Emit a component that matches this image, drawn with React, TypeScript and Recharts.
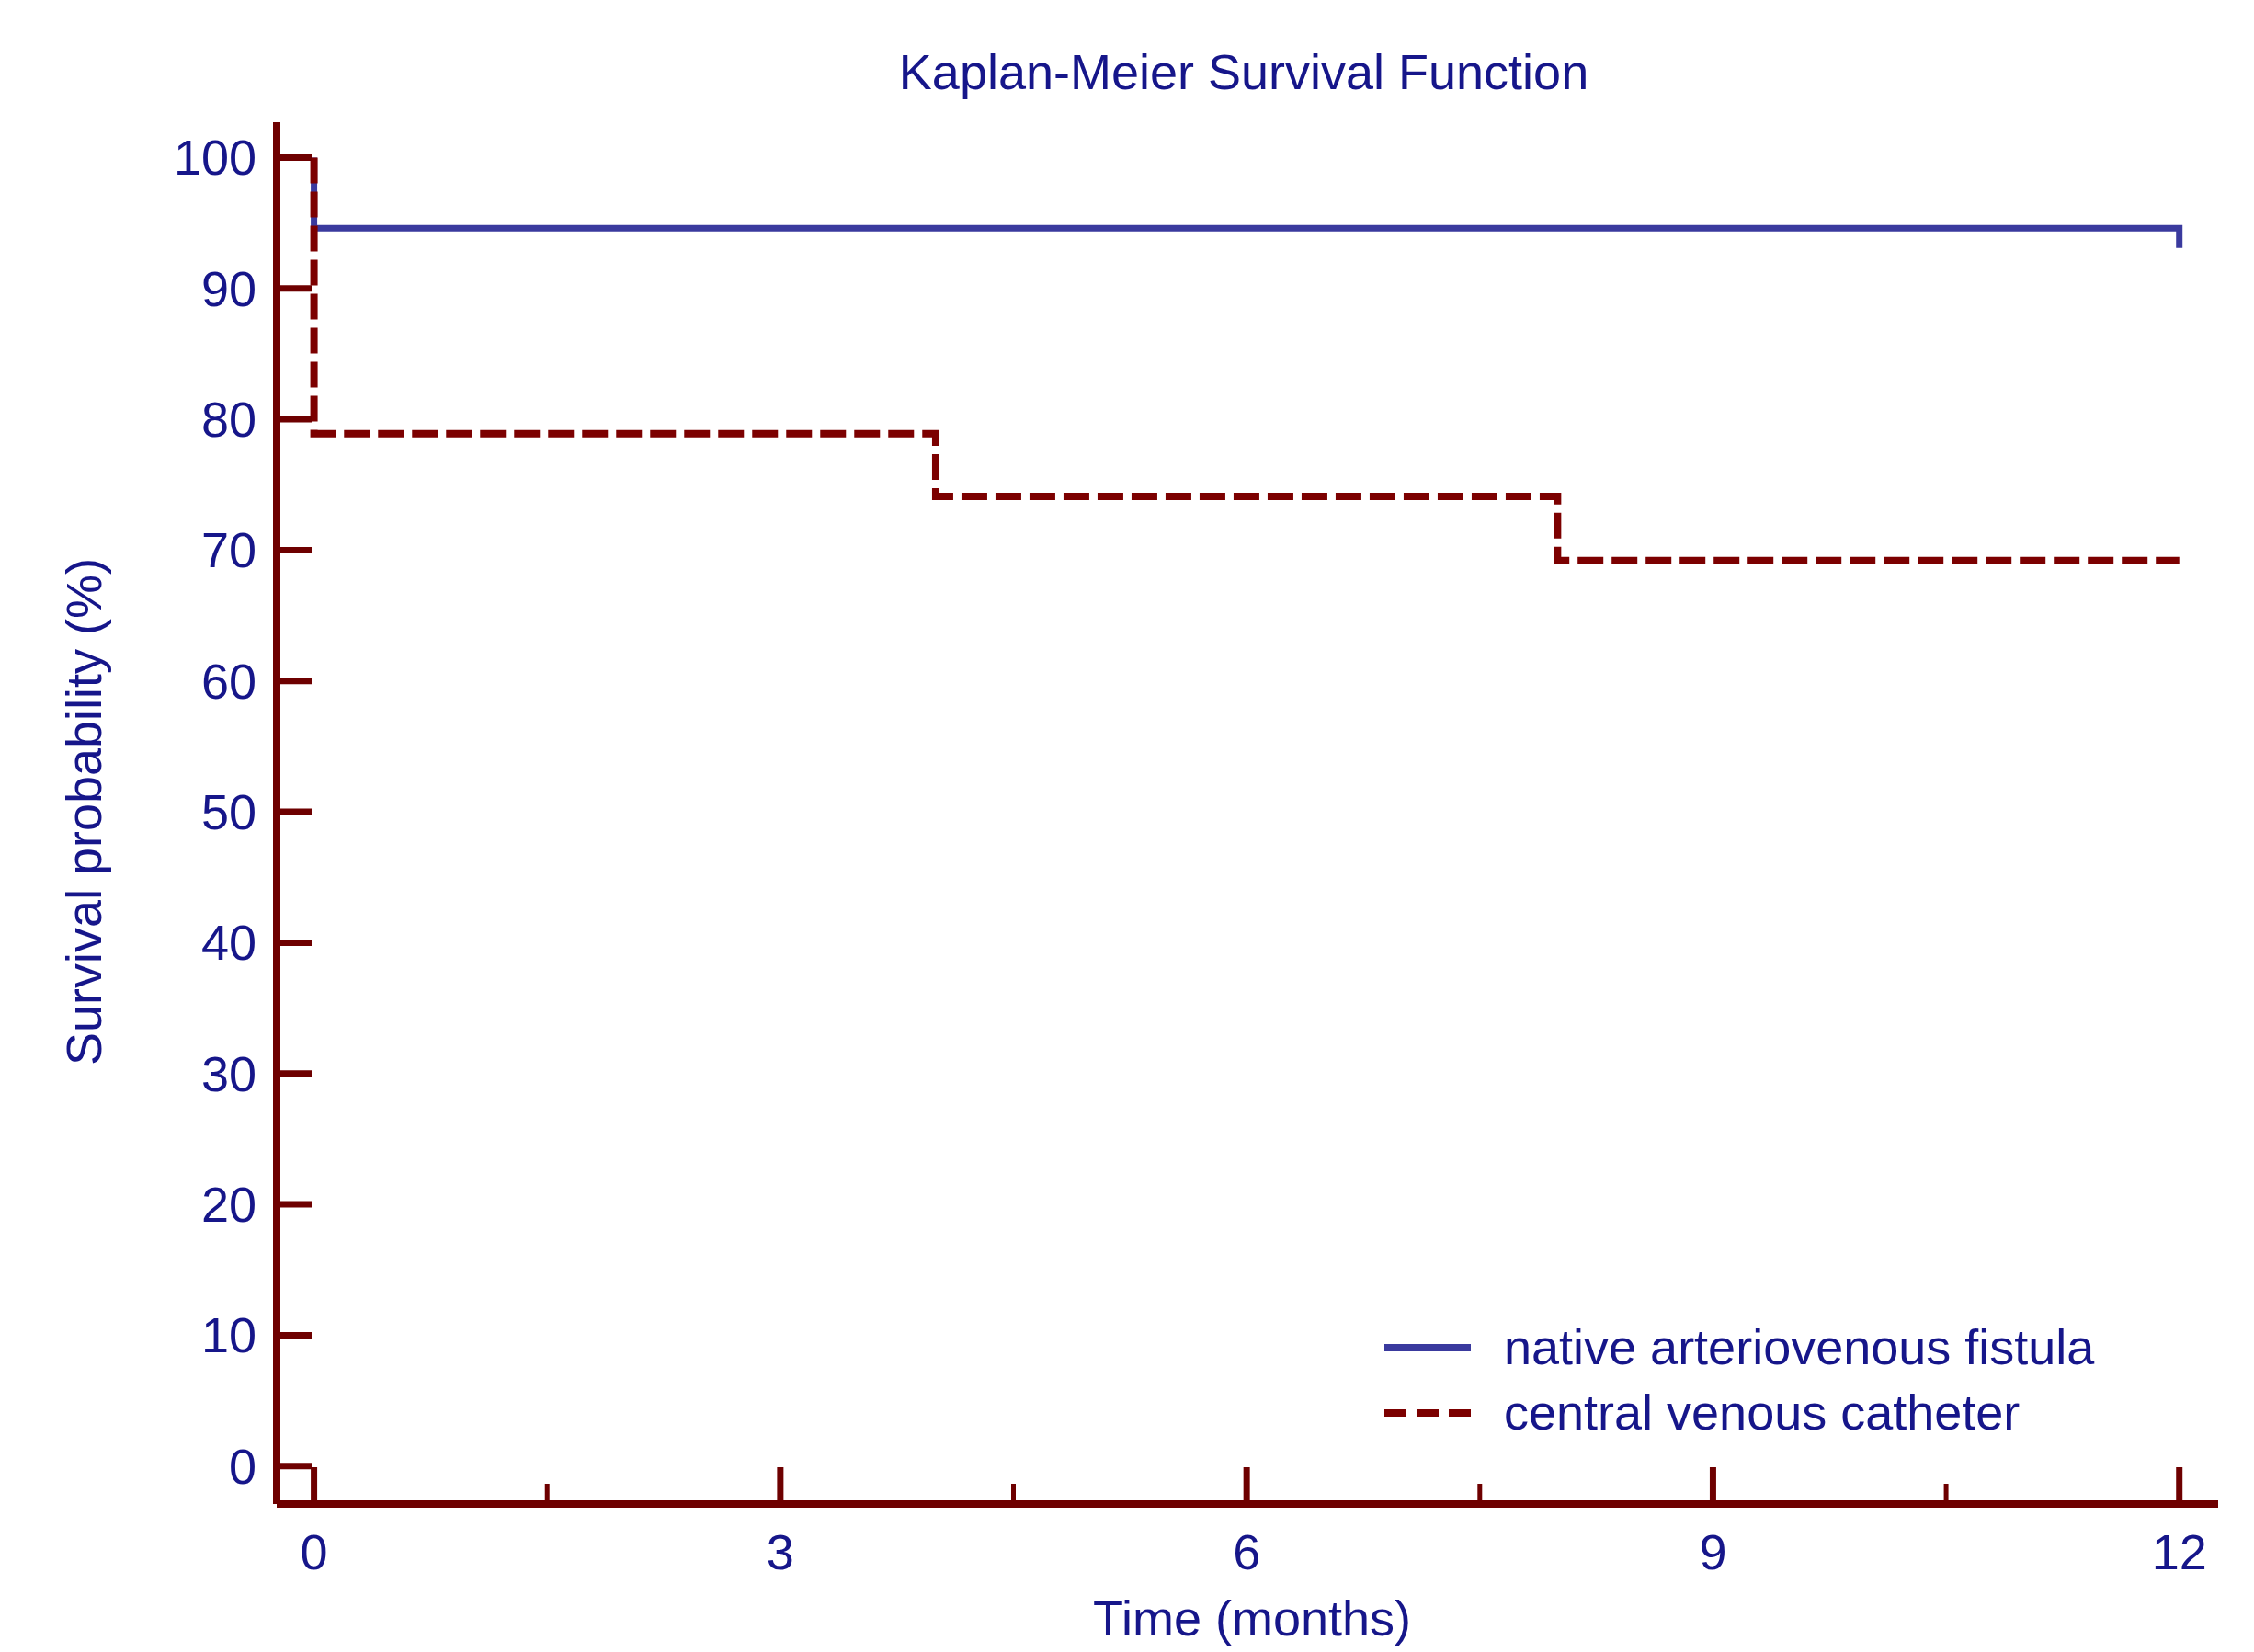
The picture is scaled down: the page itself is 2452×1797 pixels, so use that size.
// @ts-nocheck
import { LineChart, Line, XAxis, YAxis, Legend } from 'recharts'

// Kaplan-Meier step data (time in months, survival %)
const fistulaTime = [0, 0, 12, 12]
const fistulaSurv = [100, 94.6, 94.6, 93.1]
const catheterTime = [0, 0, 4, 4, 8, 8, 12]
const catheterSurv = [100, 78.9, 78.9, 74.1, 74.1, 69.2, 69.2]

const xTicks = [0, 1.5, 3, 4.5, 6, 7.5, 9, 10.5, 12]
const yTicks = [0, 10, 20, 30, 40, 50, 60, 70, 80, 90, 100]

const seriesNames = ['native arteriovenous fistula', 'central venous catheter']

const fistula = fistulaTime.map((t, i) => ({ t, s: fistulaSurv[i] }))
const catheter = catheterTime.map((t, i) => ({ t, s: catheterSurv[i] }))

const AXIS = '#6e0000'
const TEXT = '#16168a'
const BLUE = '#3a3a9e'
const RED = '#7c0000'
const FONT = '"Liberation Sans", Arial, sans-serif'

const XTick = ({ x, y, payload }) => {
  const major = payload.value % 3 === 0
  return (
    <g>
      <line x1={x} x2={x} y1={y} y2={y - (major ? 40 : 22)} stroke={AXIS} strokeWidth={major ? 7 : 5} />
      {major && (
        <text x={x} y={y + 52} textAnchor="middle" dominantBaseline="central" fill={TEXT} fontSize={54} fontFamily={FONT}>
          {payload.value}
        </text>
      )}
    </g>
  )
}

const YTick = ({ x, y, payload }) => (
  <g>
    <line x1={x} x2={x + 38} y1={y} y2={y} stroke={AXIS} strokeWidth={7} />
    <text x={x - 22} y={y} textAnchor="end" dominantBaseline="central" fill={TEXT} fontSize={54} fontFamily={FONT}>
      {payload.value}
    </text>
  </g>
)

const LegendBox = () => (
  <div style={{ fontFamily: FONT, fontSize: 54, color: TEXT, lineHeight: '71px' }}>
    {seriesNames.map((n, i) => (
      <div key={n} style={{ display: 'flex', alignItems: 'center', height: 71, whiteSpace: 'nowrap' }}>
        <svg width={94} height={20} style={{ marginRight: 36 }}>
          <line x1={0} x2={94} y1={10} y2={10} stroke={i === 0 ? BLUE : RED} strokeWidth={8} strokeDasharray={i === 0 ? undefined : '24 11'} />
        </svg>
        <span>{n}</span>
      </div>
    ))}
  </div>
)

export default function App() {
  return (
    <div style={{ position: 'absolute', left: 0, top: 0, width: 2452, height: 1797, background: '#fff', overflow: 'hidden' }}>
      <div style={{ position: 'absolute', left: 0, width: 2452, top: 44, textAlign: 'center', paddingLeft: 254, boxSizing: 'border-box', fontFamily: FONT, fontSize: 54, color: TEXT, lineHeight: '68px' }}>
        Kaplan-Meier Survival Function
      </div>
      <div style={{ position: 'absolute', left: 91, top: 883, transform: 'translate(-50%, -50%) rotate(-90deg)', whiteSpace: 'nowrap', fontFamily: FONT, fontSize: 54, color: TEXT }}>
        Survival probability (%)
      </div>
      <div style={{ position: 'absolute', left: 1362, top: 1760, transform: 'translate(-50%, -50%)', whiteSpace: 'nowrap', fontFamily: FONT, fontSize: 54, lineHeight: '60px', color: TEXT }}>
        Time (months)
      </div>
      <LineChart width={2452} height={1797} margin={{ top: 133, right: 39, bottom: 0, left: 0 }}>
        <XAxis
          dataKey="t"
          type="number"
          domain={[-0.24, 12.25]}
          ticks={xTicks}
          interval={0}
          allowDataOverflow
          height={161}
          tickSize={0}
          tickMargin={0}
          tickLine={false}
          axisLine={{ stroke: AXIS, strokeWidth: 8 }}
          tick={<XTick />}
        />
        <YAxis
          type="number"
          domain={[-2.9, 102.7]}
          ticks={yTicks}
          interval={0}
          allowDataOverflow
          width={301}
          tickSize={0}
          tickMargin={0}
          tickLine={false}
          axisLine={{ stroke: AXIS, strokeWidth: 8 }}
          tick={<YTick />}
        />
        <Legend layout="horizontal" align="center" verticalAlign="middle" wrapperStyle={{ left: 1506, top: 1430, width: 'auto' }} content={<LegendBox />} />
        <Line data={fistula} dataKey="s" name={seriesNames[0]} type="stepAfter" stroke={BLUE} strokeWidth={7} dot={false} isAnimationActive={false} />
        <Line data={catheter} dataKey="s" name={seriesNames[1]} type="stepAfter" stroke={RED} strokeWidth={8} strokeDasharray="28 9" dot={false} isAnimationActive={false} />
      </LineChart>
    </div>
  )
}
